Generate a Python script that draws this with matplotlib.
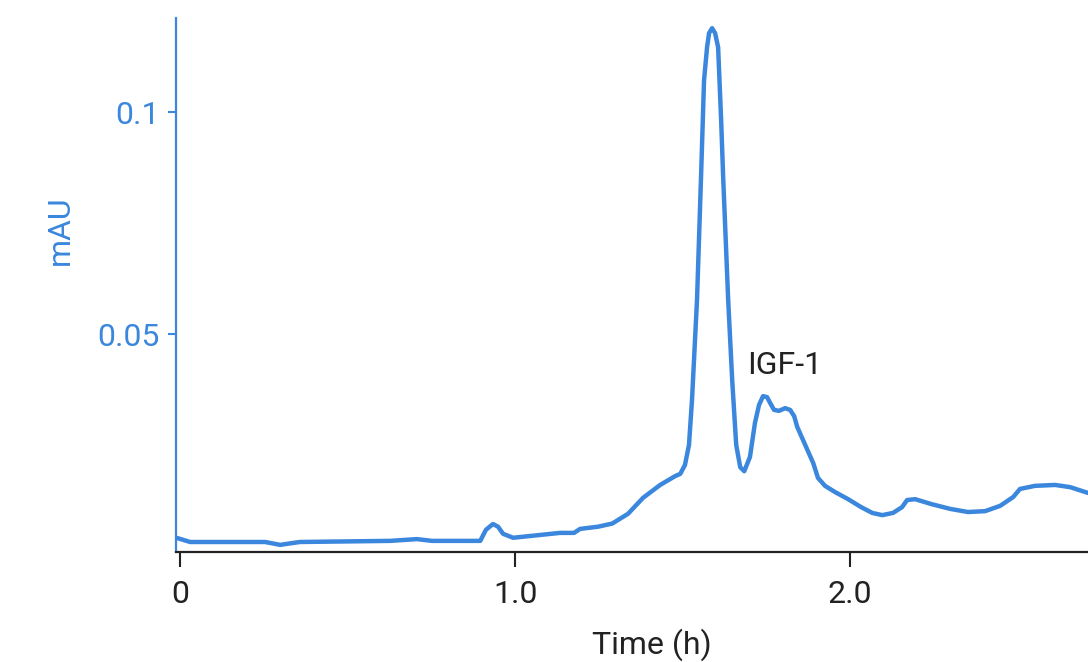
import matplotlib
matplotlib.use("Agg")
import matplotlib.pyplot as plt
from matplotlib.ticker import FixedLocator, FixedFormatter

plt.rcParams['font.family'] = ['Roboto', 'DejaVu Sans']

time_h = [-0.009, 0.030, 0.254, 0.299, 0.334, 0.358, 0.627, 0.707, 0.752, 0.896,
          0.913, 0.934, 0.949, 0.964, 0.994, 1.134, 1.176, 1.194, 1.248, 1.290,
          1.337, 1.382, 1.433, 1.478, 1.493, 1.507, 1.519, 1.528, 1.543, 1.555,
          1.564, 1.573, 1.579, 1.588, 1.597, 1.606, 1.615, 1.621, 1.636, 1.648, 1.660, 1.672,
          1.684, 1.701, 1.716, 1.728, 1.740, 1.752, 1.761, 1.773, 1.788, 1.806,
          1.821, 1.833, 1.842, 1.866, 1.890, 1.904, 1.925, 1.955, 1.994, 2.033,
          2.066, 2.096, 2.128, 2.155, 2.170, 2.194, 2.242, 2.299, 2.352, 2.403,
          2.448, 2.487, 2.507, 2.552, 2.612, 2.657, 2.710]
mau = [0.00405, 0.00315, 0.00315, 0.0025, 0.0029, 0.00315, 0.0034, 0.0038, 0.0034, 0.0034,
       0.0059, 0.0072, 0.0066, 0.0050, 0.0041, 0.0052, 0.0052, 0.0061, 0.0066, 0.0073,
       0.0095, 0.0131, 0.0160, 0.0180, 0.0185, 0.0205, 0.0250, 0.0351, 0.0577, 0.0854,
       0.1072, 0.1146, 0.1178, 0.1189, 0.1178, 0.1146, 0.0982, 0.0854, 0.0577, 0.0396, 0.0250, 0.0200,
       0.0191, 0.0223, 0.0300, 0.0340, 0.0360, 0.0358, 0.0345, 0.0329, 0.0327, 0.0333,
       0.0329, 0.0315, 0.0291, 0.0250, 0.0209, 0.0176, 0.0158, 0.0144, 0.0128, 0.0110,
       0.0097, 0.0092, 0.0097, 0.0110, 0.0126, 0.0128, 0.0117, 0.0106, 0.0099, 0.0101,
       0.0113, 0.0133, 0.0151, 0.0158, 0.0160, 0.0155, 0.0142]

x_ticks = [0, 1, 2]
x_tick_labels = ["0", "1.0", "2.0"]
y_ticks = [0.05, 0.1]
y_tick_labels = ["0.05", "0.1"]

annotation_text = "IGF-1"
annotation_pos = (1.693, 0.0430)

blue = '#3b87dd'
dark = '#222222'
fs = 23

fig = plt.figure(figsize=(10.88, 6.62), dpi=100)
ax = fig.add_axes([0.1618, 0.1662, 1 - 0.1618, 0.9728 - 0.1662])

ax.plot(time_h, mau, color=blue, lw=3.2, solid_joinstyle='round', solid_capstyle='round')

ax.set_xlim(-0.012, 2.710)
ax.set_ylim(0.0009, 0.1212)

ax.xaxis.set_major_locator(FixedLocator(x_ticks))
ax.xaxis.set_major_formatter(FixedFormatter(x_tick_labels))
ax.yaxis.set_major_locator(FixedLocator(y_ticks))
ax.yaxis.set_major_formatter(FixedFormatter(y_tick_labels))

for s in ['top', 'right']:
    ax.spines[s].set_visible(False)
ax.spines['left'].set_color(blue)
ax.spines['left'].set_linewidth(1.6)
ax.spines['bottom'].set_color(dark)
ax.spines['bottom'].set_linewidth(1.6)

ax.tick_params(axis='x', colors=dark, labelsize=fs, length=11, width=1.5, pad=9)
ax.tick_params(axis='y', colors=blue, labelsize=fs, length=6, width=1.5, pad=6)

ax.set_xlabel("Time (h)", fontsize=fs, color=dark)
ax.xaxis.set_label_coords(0.522, -0.174)
ax.xaxis.label.set_va('center')
ax.set_ylabel("mAU", fontsize=fs, color=blue)
ax.yaxis.set_label_coords(-0.127, 0.603)
ax.yaxis.label.set_va('center')

ax.text(annotation_pos[0], annotation_pos[1], annotation_text, fontsize=fs,
        color=dark, ha='left', va='center')

fig.savefig("out.png", dpi=100)
